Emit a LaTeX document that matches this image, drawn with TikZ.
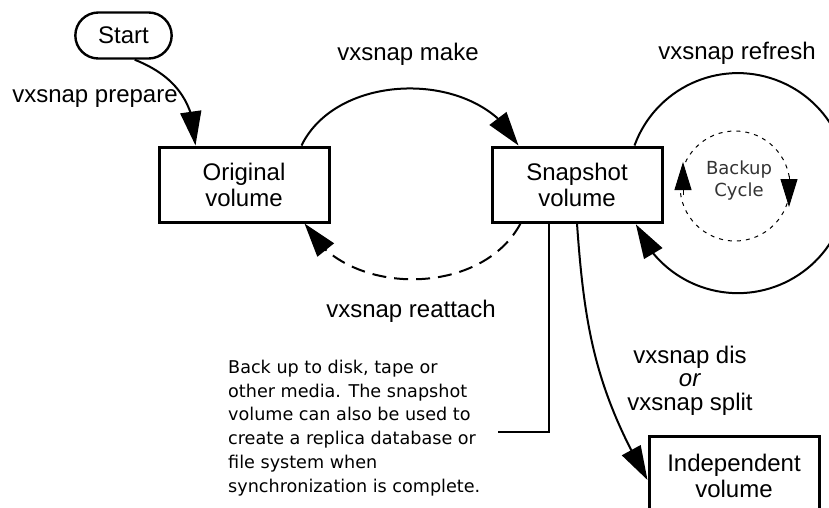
\documentclass[tikz,border=0pt]{standalone}
\usepackage{fontspec}
\setmainfont{Liberation Sans}
\newfontfamily\notefont{DejaVu Sans}
\usetikzlibrary{arrows.meta,bending,shapes.misc,calc}

\begin{document}
\begin{tikzpicture}[x=1pt,y=1pt,
		vol/.style={draw, line width=3pt, minimum width=170pt, minimum height=75pt, align=center, font=\fontsize{24}{26}\selectfont},
		cmd/.style={anchor=base, align=center, font=\fontsize{24}{23.5}\selectfont},
		flow/.style={line width=2pt, -{Triangle[length=34pt,width=21pt]}},
		dashcirc/.style={line width=1pt, dash pattern=on 4pt off 5pt},
		smalltip/.style={line width=1pt, -{Triangle[length=28pt,width=17pt]}}]
	\useasboundingbox (0,0) rectangle (829,-507);
	
	% boxes
	\node[draw, rounded rectangle, line width=2.4pt, minimum width=103pt, minimum height=46pt, font=\fontsize{24}{26}\selectfont] (start) at (123.5,-35.5) {Start};
	\node[vol] (orig) at (244,-184.5) {Original\\volume};
	\node[vol] (snap) at (577,-184.5) {Snapshot\\volume};
	\node[vol, minimum height=80pt] (indep) at (734,-476) {Independent\\volume};
	
	% commands
	\node[cmd] (prep) at (95,-102) {vxsnap prepare};
	\node[cmd] (make) at (408,-60) {vxsnap make};
	\node[cmd] (refr) at (737,-59) {vxsnap refresh};
	\node[cmd] (reat) at (411,-317) {vxsnap reattach};
	\node[cmd] (dis) at (690,-410) {vxsnap dis\\\textit{or}\\vxsnap split};
	
	% snapshot cycle
	\draw[flow] ([xshift=-14pt]start.south east) .. controls +(30,-12) and +(0,52) .. ([xshift=38pt]orig.north west);
	\draw[flow] ([xshift=-29pt]orig.north east) to[out=64,in=116] ([xshift=28pt]snap.north west);
	\draw[flow, dash pattern=on 14pt off 8pt] ([xshift=30pt]snap.south west) to[out=-118,in=-62] ([xshift=-26pt]orig.south east);
	\draw[flow] ([xshift=-29pt]snap.north east) arc[start angle=160, end angle=-158, radius=110];
	\draw[flow] (snap.south) to[out=-86,in=120] ([yshift=-4pt]indep.west);
	
	% backup cycle
	\coordinate (bc) at (735,-186);
	\node[font=\notefont\fontsize{18}{22}\selectfont, text=black!80, align=center] (back) at ([xshift=4pt,yshift=5pt]bc) {Backup\\Cycle};
	\draw[dashcirc] (bc) circle[radius=55];
	\draw[smalltip] ($(bc)+(-52,-9)$) -- ($(bc)+(-52,24)$);
	\draw[smalltip] ($(bc)+(54,10)$) -- ($(bc)+(54,-21)$);
	
	% note
	\node[anchor=north west, inner sep=0pt, align=left, font=\notefont\fontsize{17.6}{23.7}\selectfont] (note) at (228,-360)
	{Back up to disk, tape or\\other media. The snapshot\\volume can also be used to\\create a replica database or\\file system when\\synchronization is complete.};
	\coordinate (noteend) at (498,-432);
	\draw[line width=2pt] ([xshift=-28pt]snap.south) |- (noteend);
\end{tikzpicture}
\end{document}
